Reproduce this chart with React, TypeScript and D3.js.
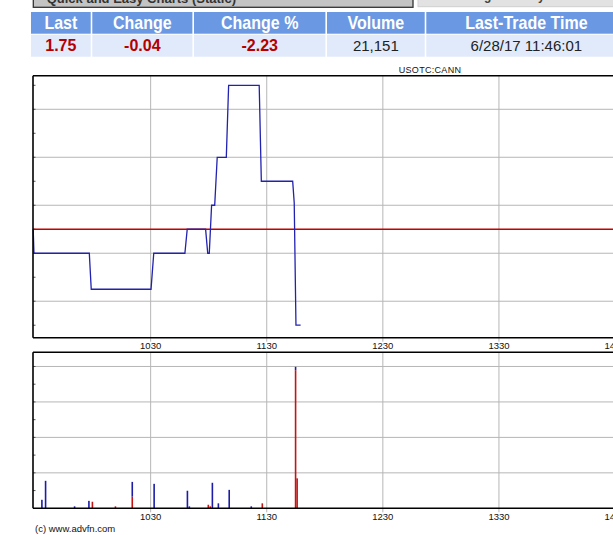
import React from 'react';
import * as d3 from 'd3';

// ---- data ----
const headerLabels = ['Last', 'Change', 'Change %', 'Volume', 'Last-Trade Time'];
const headerValues = ['1.75', '-0.04', '-2.23', '21,151', '6/28/17 11:46:01'];
const valueIsRed = [true, true, true, false, false];

// minutes since midnight
const priceMinutes = [569.3, 569.7, 598.3, 599.3, 630.2, 631.6, 647.7, 648.9, 658.4, 659.5, 660.3, 661.5, 663.1, 664.4, 669.1, 670.3, 686.1, 687.2, 703.4, 704.2, 705.1, 707.5];
const priceValues = [1.79, 1.78, 1.78, 1.765, 1.765, 1.78, 1.78, 1.79, 1.79, 1.78, 1.78, 1.80, 1.80, 1.82, 1.82, 1.85, 1.85, 1.81, 1.81, 1.801, 1.75, 1.75];
const previousClose = 1.79;

const volumeMinutes = [573.8, 575.7, 590.7, 598.1, 599.9, 611.8, 620.5, 631.8, 649.0, 650.0, 659.8, 660.8, 661.9, 665.0, 670.6, 682.0, 687.7, 704.9, 705.7];
const upVolume = [480, 1550, 110, 420, 0, 0, 830, 1380, 990, 110, 0, 0, 1440, 280, 1040, 110, 0, 190, 0];
const downVolume = [0, 0, 0, 0, 370, 110, 660, 0, 0, 0, 200, 110, 0, 0, 0, 0, 280, 7790, 1690];

const timeTickMinutes = [630, 690, 750, 810, 870];
const timeTickLabels = ['1030', '1130', '1230', '1330', '1430'];
const priceGridValues = [1.76, 1.78, 1.8, 1.82, 1.84];
const priceTickValues = [1.75, 1.76, 1.77, 1.78, 1.79, 1.8, 1.81, 1.82, 1.83, 1.84, 1.85];
const volumeGridValues = [2000, 4000, 6000, 8000];
const volumeTickValues = [1000, 2000, 3000, 4000, 5000, 6000, 7000, 8000];

const symbolLabel = 'USOTC:CANN';
const copyright = '(c) www.advfn.com';
const tabLabels = ['Quick and Easy Charts (Static)', 'Change to Daily'];

// ---- layout ----
const W = 613;
const H = 535;
const columnEdges = [31, 92.3, 194, 327, 426.3, 628];
const FONT = '"Liberation Sans", Arial, sans-serif';

const LEFT = 33;
const P_TOP = 75.7;
const P_BOT = 337.7;
const V_TOP = 352.3;
const V_BOT = 508.3;

export default function App() {
  const x = d3.scaleLinear().domain([569.2, 960]).range([LEFT, LEFT + (960 - 569.2) * 1.935]);
  const yP = d3.scaleLinear().domain([1.7448, 1.854]).range([P_BOT, P_TOP]);
  const yV = d3.scaleLinear().domain([0, 8800]).range([V_BOT, V_TOP]);

  const pricePts: [number, number][] = priceMinutes.map((m, i) => [m, priceValues[i]]);
  const line = d3.line<[number, number]>().x(d => x(d[0])).y(d => yP(d[1]));

  const gridColor = '#b6b6b6';
  const barW = 1.6;

  return (
    <div style={{ position: 'absolute', left: 0, top: 0 }}>
      <svg width={W} height={H} style={{ display: 'block', background: '#fff' }}>
        {/* top tabs (clipped) */}
        <rect x={33.3} y={-20} width={379.7} height={27.3} fill="#c4c4c4" stroke="#333" strokeWidth={1.3} />
        <text x={46.7} y={2.6} fontFamily={FONT} fontSize={13} fontWeight="bold" fill="#333">{tabLabels[0]}</text>
        <rect x={418} y={-20} width={220} height={26.7} fill="#e2e2e2" stroke="#cfcfcf" strokeWidth={1} />
        <text x={454} y={-0.3} fontFamily={FONT} fontSize={12} fontWeight="bold" fill="#444">{tabLabels[1]}</text>

        {/* quote table */}
        {headerLabels.map((lab, i) => {
          const x0 = columnEdges[i];
          const x1 = columnEdges[i + 1] - 1.6;
          const cx = (x0 + x1) / 2;
          return (
            <g key={lab}>
              <rect x={x0} y={12} width={x1 - x0} height={21.7} fill="#6a98e2" />
              <rect x={x0} y={34.7} width={x1 - x0} height={22} fill="#e0eafa" />
              <text
                transform={`translate(${cx},29) scale(1,1.15)`}
                textAnchor="middle"
                fontFamily={FONT}
                fontSize={16}
                fontWeight="bold"
                fill="#fff"
              >
                {lab}
              </text>
              <text
                x={cx}
                y={50.7}
                textAnchor="middle"
                fontFamily={FONT}
                fontSize={valueIsRed[i] ? 16 : 15}
                fontWeight={valueIsRed[i] ? 'bold' : 'normal'}
                fill={valueIsRed[i] ? '#b40000' : '#222'}
              >
                {headerValues[i]}
              </text>
            </g>
          );
        })}

        {/* symbol */}
        <text x={430} y={73.3} textAnchor="middle" fontFamily={FONT} fontSize={9} letterSpacing={0.3} fill="#111">
          {symbolLabel}
        </text>

        {/* ---- price panel ---- */}
        {priceGridValues.map(v => (
          <line key={'pg' + v} x1={LEFT} x2={W} y1={yP(v)} y2={yP(v)} stroke={gridColor} strokeWidth={1} />
        ))}
        {timeTickMinutes.map(m => (
          <line key={'pv' + m} x1={x(m)} x2={x(m)} y1={P_TOP} y2={P_BOT + 4} stroke={gridColor} strokeWidth={1} />
        ))}
        {priceTickValues.map(v => (
          <line key={'pt' + v} x1={LEFT} x2={LEFT + 2.5} y1={yP(v)} y2={yP(v)} stroke="#555" strokeWidth={1} />
        ))}
        <line x1={LEFT} x2={W} y1={yP(previousClose)} y2={yP(previousClose)} stroke="#c40000" strokeWidth={1.3} />
        <path d={line(pricePts) || ''} fill="none" stroke="#2222b0" strokeWidth={1.3} />
        <line x1={LEFT} x2={W} y1={P_TOP} y2={P_TOP} stroke="#000" strokeWidth={1.4} />
        <line x1={LEFT} x2={LEFT} y1={P_TOP} y2={P_BOT} stroke="#000" strokeWidth={1.6} />
        <line x1={LEFT} x2={W} y1={P_BOT} y2={P_BOT} stroke="#000" strokeWidth={1.6} />
        {timeTickMinutes.map((m, i) => (
          <text key={'pl' + m} x={x(m)} y={349.3} textAnchor="middle" fontFamily={FONT} fontSize={9.5} fill="#111">
            {timeTickLabels[i]}
          </text>
        ))}

        {/* ---- volume panel ---- */}
        {volumeGridValues.map(v => (
          <line key={'vg' + v} x1={LEFT} x2={W} y1={yV(v)} y2={yV(v)} stroke={gridColor} strokeWidth={1} />
        ))}
        {timeTickMinutes.map(m => (
          <line key={'vv' + m} x1={x(m)} x2={x(m)} y1={V_TOP} y2={V_BOT + 4} stroke={gridColor} strokeWidth={1} />
        ))}
        {volumeTickValues.map(v => (
          <line key={'vt' + v} x1={LEFT} x2={LEFT + 2.5} y1={yV(v)} y2={yV(v)} stroke="#555" strokeWidth={1} />
        ))}
        {volumeMinutes.map((m, i) => (
          <g key={'vb' + m}>
            {downVolume[i] > 0 && (
              <rect x={x(m) - barW / 2} y={yV(downVolume[i])} width={barW} height={yV(0) - yV(downVolume[i])} fill="#c41414" />
            )}
            {upVolume[i] > 0 && (
              <rect
                x={x(m) - barW / 2}
                y={yV(downVolume[i] + upVolume[i])}
                width={barW}
                height={yV(downVolume[i]) - yV(downVolume[i] + upVolume[i])}
                fill="#1c1ca8"
              />
            )}
          </g>
        ))}
        <line x1={LEFT} x2={W} y1={V_TOP} y2={V_TOP} stroke="#000" strokeWidth={1.6} />
        <line x1={LEFT} x2={LEFT} y1={V_TOP} y2={V_BOT} stroke="#000" strokeWidth={1.6} />
        <line x1={LEFT} x2={W} y1={V_BOT} y2={V_BOT} stroke="#000" strokeWidth={1.6} />
        {timeTickMinutes.map((m, i) => (
          <text key={'vl' + m} x={x(m)} y={520} textAnchor="middle" fontFamily={FONT} fontSize={9.5} fill="#111">
            {timeTickLabels[i]}
          </text>
        ))}

        <text x={35} y={532} fontFamily={FONT} fontSize={9.5} fill="#111">{copyright}</text>
      </svg>
    </div>
  );
}
